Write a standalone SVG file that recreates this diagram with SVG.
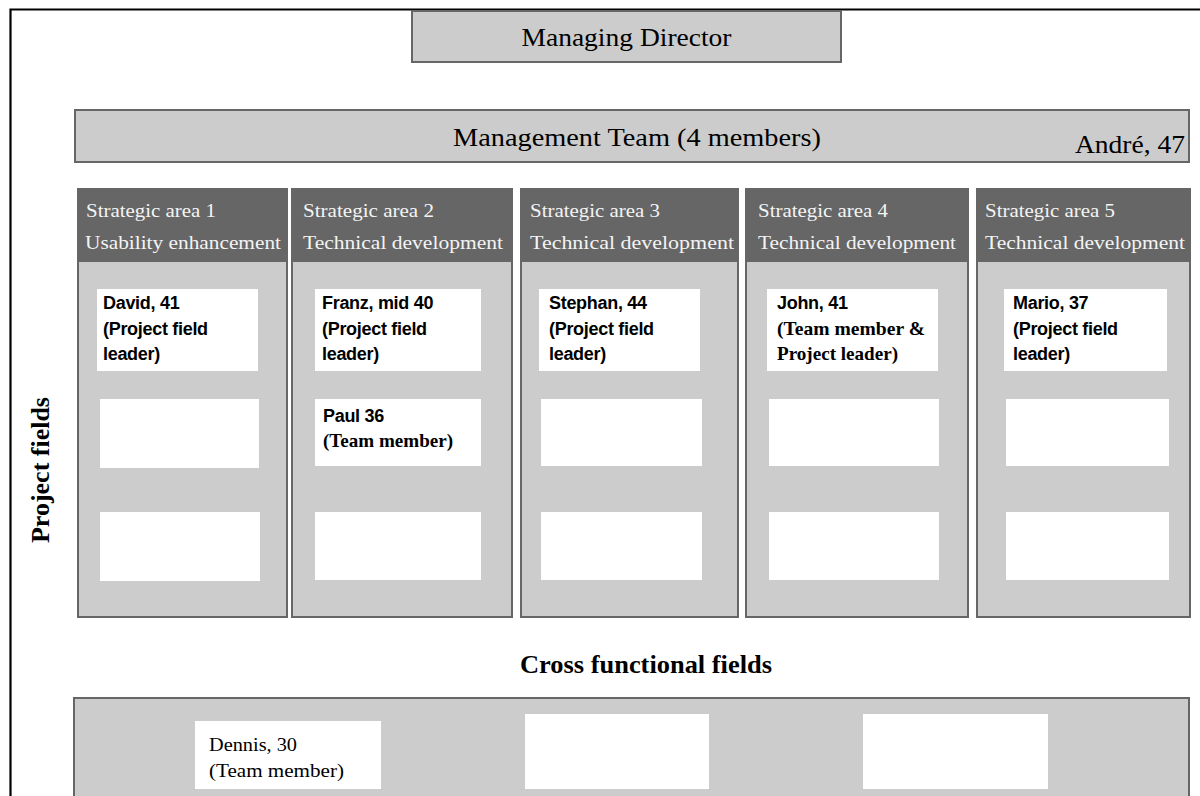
<svg xmlns="http://www.w3.org/2000/svg" width="1200" height="796" viewBox="0 0 1200 796">
  <style>
    .panel { fill: #cccccc; stroke: #666666; stroke-width: 2; }
    .head { fill: #666666; }
    .card { fill: #ffffff; }
    .title { font-family: "Liberation Serif", "Times New Roman", serif; font-size: 25px; fill: #000; }
    .htxt { font-family: "Liberation Serif", "Times New Roman", serif; font-size: 18px; fill: #f4f4f4; }
    .name { font-family: "Liberation Sans", Arial, sans-serif; font-size: 18px; font-weight: bold; fill: #000; letter-spacing: -0.3px; }
    .sbold { font-family: "Liberation Serif", "Times New Roman", serif; font-size: 19px; font-weight: bold; fill: #000; }
    .sreg { font-family: "Liberation Serif", "Times New Roman", serif; font-size: 19px; fill: #000; }
    .label { font-family: "Liberation Serif", "Times New Roman", serif; font-size: 25px; font-weight: bold; fill: #000; }
  </style>

  <rect x="0" y="0" width="1200" height="796" fill="#ffffff"/>

  <!-- outer frame (top and left edges visible) -->
  <path d="M10.5 820 V9.5 H1210" fill="none" stroke="#000" stroke-width="2.2"/>

  <g id="managing-director">
    <rect class="panel" x="412" y="11" width="429" height="51"/>
    <text class="title" x="626.5" y="46" text-anchor="middle" textLength="210" lengthAdjust="spacingAndGlyphs">Managing Director</text>
  </g>

  <g id="management-team">
    <rect class="panel" x="75" y="110" width="1114" height="52"/>
    <text class="title" x="453" y="146" font-size="24" textLength="368" lengthAdjust="spacingAndGlyphs">Management Team (4 members)</text>
    <text class="title" x="1075" y="153" font-size="24" textLength="110" lengthAdjust="spacingAndGlyphs">André, 47</text>
  </g>

  <text id="project-fields" class="label" transform="translate(49,470) rotate(-90)" text-anchor="middle" textLength="146" lengthAdjust="spacingAndGlyphs">Project fields</text>

  <g id="area-1">
    <rect class="panel" x="78" y="189" width="209" height="428"/>
    <rect class="head" x="77" y="188" width="211" height="74"/>
    <text class="htxt" x="86" y="217" textLength="130" lengthAdjust="spacingAndGlyphs">Strategic area 1</text>
    <text class="htxt" x="85" y="249" textLength="196" lengthAdjust="spacingAndGlyphs">Usability enhancement</text>
    <rect class="card" x="97" y="289" width="161" height="82"/>
    <text class="name" x="103" y="309">David, 41</text>
    <text class="name" x="103" y="335">(Project field</text>
    <text class="name" x="103" y="360">leader)</text>
    <rect class="card" x="100" y="399" width="159" height="69"/>
    <rect class="card" x="100" y="512" width="160" height="69"/>
  </g>

  <g id="area-2">
    <rect class="panel" x="292" y="189" width="220" height="428"/>
    <rect class="head" x="291" y="188" width="222" height="74"/>
    <text class="htxt" x="303" y="217" textLength="131" lengthAdjust="spacingAndGlyphs">Strategic area 2</text>
    <text class="htxt" x="303" y="249" textLength="200" lengthAdjust="spacingAndGlyphs">Technical development</text>
    <rect class="card" x="315" y="289" width="166" height="82"/>
    <text class="name" x="322" y="309">Franz, mid 40</text>
    <text class="name" x="322" y="335">(Project field</text>
    <text class="name" x="322" y="360">leader)</text>
    <rect class="card" x="315" y="399" width="166" height="67"/>
    <text class="name" x="323" y="422">Paul 36</text>
    <text class="sbold" x="323" y="447" textLength="130" lengthAdjust="spacingAndGlyphs">(Team member)</text>
    <rect class="card" x="315" y="512" width="166" height="68"/>
  </g>

  <g id="area-3">
    <rect class="panel" x="521" y="189" width="217" height="428"/>
    <rect class="head" x="520" y="188" width="219" height="74"/>
    <text class="htxt" x="530" y="217" textLength="130" lengthAdjust="spacingAndGlyphs">Strategic area 3</text>
    <text class="htxt" x="530" y="249" textLength="204" lengthAdjust="spacingAndGlyphs">Technical development</text>
    <rect class="card" x="539" y="289" width="161" height="82"/>
    <text class="name" x="549" y="309">Stephan, 44</text>
    <text class="name" x="549" y="335">(Project field</text>
    <text class="name" x="549" y="360">leader)</text>
    <rect class="card" x="541" y="399" width="161" height="67"/>
    <rect class="card" x="541" y="512" width="161" height="68"/>
  </g>

  <g id="area-4">
    <rect class="panel" x="746" y="189" width="222" height="428"/>
    <rect class="head" x="745" y="188" width="224" height="74"/>
    <text class="htxt" x="758" y="217" textLength="130" lengthAdjust="spacingAndGlyphs">Strategic area 4</text>
    <text class="htxt" x="758" y="249" textLength="198" lengthAdjust="spacingAndGlyphs">Technical development</text>
    <rect class="card" x="767" y="289" width="171" height="82"/>
    <text class="name" x="777" y="309">John, 41</text>
    <text class="sbold" x="777" y="335" textLength="148" lengthAdjust="spacingAndGlyphs">(Team member &amp;</text>
    <text class="sbold" x="777" y="360" textLength="121" lengthAdjust="spacingAndGlyphs">Project leader)</text>
    <rect class="card" x="769" y="399" width="170" height="67"/>
    <rect class="card" x="769" y="512" width="170" height="68"/>
  </g>

  <g id="area-5">
    <rect class="panel" x="977" y="189" width="213" height="428"/>
    <rect class="head" x="976" y="188" width="215" height="74"/>
    <text class="htxt" x="985" y="217" textLength="130" lengthAdjust="spacingAndGlyphs">Strategic area 5</text>
    <text class="htxt" x="985" y="249" textLength="200" lengthAdjust="spacingAndGlyphs">Technical development</text>
    <rect class="card" x="1004" y="289" width="163" height="82"/>
    <text class="name" x="1013" y="309">Mario, 37</text>
    <text class="name" x="1013" y="335">(Project field</text>
    <text class="name" x="1013" y="360">leader)</text>
    <rect class="card" x="1006" y="399" width="163" height="67"/>
    <rect class="card" x="1006" y="512" width="163" height="68"/>
  </g>

  <text id="cross-functional" class="label" x="520" y="673" textLength="252" lengthAdjust="spacingAndGlyphs">Cross functional fields</text>

  <g id="cross-functional-fields">
    <rect class="panel" x="74" y="698" width="1115" height="140"/>
    <rect class="card" x="195" y="721" width="186" height="68"/>
    <text class="sreg" x="209" y="751" textLength="88" lengthAdjust="spacingAndGlyphs">Dennis, 30</text>
    <text class="sreg" x="209" y="777" textLength="135" lengthAdjust="spacingAndGlyphs">(Team member)</text>
    <rect class="card" x="525" y="714" width="184" height="75"/>
    <rect class="card" x="863" y="714" width="185" height="75"/>
  </g>
</svg>
